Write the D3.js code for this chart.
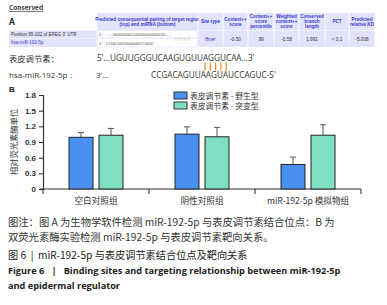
<!DOCTYPE html>
<html>
<head>
<meta charset="utf-8">
<script src="https://cdn.jsdelivr.net/npm/d3@7"></script>
<style>
  body { margin: 0; background: #fff; }
  svg { display: block; }
</style>
</head>
<body>
<div id="chart"></div>
<script>
// ---- data ----
const categories = ["空白对照组", "阴性对照组", "miR-192-5p 模拟物组"];
const seriesNames = ["表皮调节素 - 野生型", "表皮调节素 - 突变型"];
const wildValues = [0.99, 1.05, 0.47];
const wildErrors = [0.09, 0.14, 0.14];
const mutantValues = [1.03, 1.00, 1.03];
const mutantErrors = [0.13, 0.18, 0.20];
const yTicks = [0, 0.3, 0.6, 0.9, 1.2, 1.5, 1.8];

const tableHeaders = ["", "Predicted consequential pairing of target region\n(top) and miRNA (bottom)", "Site type",
  "Context++\nscore", "Context++\nscore\npercentile", "Weighted\ncontext++\nscore", "Conserved\nbranch\nlength", "PCT", "Predicted\nrelative KD"];
const tableValues = ["8mer", "-0.50", "99", "-0.58", "1.991", "< 0.1", "-5.008"];
const rowLabels = ["Position 95-102 of EREG 3' UTR", "hsa-miR-192-5p"];

const colors = ["#4a8ff2", "#7fdfc2"];

const W = 387, H = 305;
const svg = d3.select("#chart").append("svg").attr("width", W).attr("height", H)
  .style("font-family", "'Noto Sans CJK SC', 'Open Sans', sans-serif");

// ---- panel A: table ----
svg.append("text").attr("x", 9).attr("y", 10).attr("font-size", 6.5).attr("font-weight", "bold")
  .attr("fill", "#333").attr("text-decoration", "underline").text("Conserved");
svg.append("text").attr("x", 9).attr("y", 25).attr("font-size", 9).attr("font-weight", "bold")
  .attr("fill", "#222").text("A");

const colX = [9, 97, 198, 223, 248, 274, 299, 325, 349, 375];
const cellBg = "#e2e3fb", blueTxt = "#3a3ad0";
tableHeaders.forEach((h, i) => {
  const x0 = colX[i] + 0.5, x1 = colX[i + 1] - 0.5;
  if (i > 0) svg.append("rect").attr("x", x0).attr("y", 13).attr("width", x1 - x0).attr("height", 17).attr("fill", cellBg);
  const lines = h.split("\n");
  const t = svg.append("text").attr("x", (x0 + x1) / 2).attr("text-anchor", "middle")
    .attr("font-size", 4.6).attr("font-weight", "bold").attr("fill", blueTxt)
    .attr("font-family", "'Liberation Sans', Arial, sans-serif");
  lines.forEach((l, j) => {
    t.append("tspan").attr("x", (x0 + x1) / 2).attr("y", 21.5 - (lines.length - 1) * 2.5 + j * 5 + 1.6).text(l);
  });
});
// data rows
rowLabels.forEach((r, j) => {
  const y0 = j === 0 ? 30.5 : 38.5, hgt = j === 0 ? 7.5 : 8.5;
  svg.append("rect").attr("x", colX[0]).attr("y", y0).attr("width", colX[1] - colX[0] - 0.5).attr("height", hgt).attr("fill", cellBg);
  svg.append("rect").attr("x", colX[1] + 0.5).attr("y", y0).attr("width", colX[2] - colX[1] - 1).attr("height", hgt).attr("fill", "#fff")
    .attr("stroke", cellBg).attr("stroke-width", 0.6);
  svg.append("text").attr("x", colX[0] + 2).attr("y", y0 + hgt / 2 + 1.5).attr("font-size", 4.5)
    .attr("fill", j === 0 ? "#333" : blueTxt).attr("font-family", "'Liberation Sans', Arial, sans-serif").text(r);
});
svg.append("text").attr("x", 99).attr("y", 35.8).attr("font-size", 3.8).attr("fill", "#555")
  .attr("font-family", "'DejaVu Sans Mono', monospace").text("5'   ...UGUUGGGUCAAGUGUUAGGUCAA...");
svg.append("text").attr("x", 174).attr("y", 39.8).attr("font-size", 3.8).attr("fill", "#999")
  .attr("font-family", "'DejaVu Sans Mono', monospace").text("|||||||");
svg.append("text").attr("x", 99).attr("y", 44.5).attr("font-size", 3.8).attr("fill", "#555")
  .attr("font-family", "'DejaVu Sans Mono', monospace").text("3'          CCGACAGUUAAGUAUCCAGUC");
tableValues.forEach((v, i) => {
  const x0 = colX[i + 2] + 0.5, x1 = colX[i + 3] - 0.5;
  svg.append("rect").attr("x", x0).attr("y", 30.5).attr("width", x1 - x0).attr("height", 16.5).attr("fill", cellBg);
  svg.append("text").attr("x", (x0 + x1) / 2).attr("y", 40.5).attr("text-anchor", "middle")
    .attr("font-size", 4.7).attr("fill", i === 0 ? blueTxt : "#333")
    .attr("font-style", i === 0 ? "italic" : "normal")
    .attr("font-family", "'Liberation Sans', Arial, sans-serif").text(v);
});

// ---- pairing ----
const seqFont = "'Open Sans', 'Liberation Sans', sans-serif";
svg.append("text").attr("x", 9).attr("y", 62).attr("font-size", 8.3).attr("fill", "#333").text("表皮调节素：");
svg.append("text").attr("x", 97).attr("y", 61).attr("font-size", 8.2).attr("fill", "#333").attr("font-family", seqFont)
  .text("5'...UGUUGGGUCAAGUGUUAGGUCAA...3'");
d3.range(5).forEach(i => {
  svg.append("line").attr("x1", 205 + i * 5.3).attr("x2", 205 + i * 5.3).attr("y1", 62.5).attr("y2", 70.5)
    .attr("stroke", "#f08a1c").attr("stroke-width", 1.2);
});
svg.append("text").attr("x", 9).attr("y", 78).attr("font-size", 8).attr("fill", "#333").attr("font-family", seqFont).text("hsa-miR-192-5p：");
svg.append("text").attr("x", 96).attr("y", 78).attr("font-size", 8).attr("fill", "#333").attr("font-family", seqFont).text("3'...");
svg.append("text").attr("x", 151).attr("y", 78).attr("font-size", 8.2).attr("fill", "#333").attr("font-family", seqFont)
  .text("CCGACAGUUAAGUAUCCAGUC-5'");
svg.append("text").attr("x", 9).attr("y", 92).attr("font-size", 8).attr("font-weight", "bold").attr("fill", "#222")
  .attr("font-family", "'Liberation Sans', Arial, sans-serif").text("B");

// ---- panel B: bar chart ----
const plotLeft = 43, plotRight = 361, plotTop = 95, plotBottom = 189;
const x = d3.scaleBand().domain(categories).range([plotLeft, plotRight]).padding(0);
const y = d3.scaleLinear().domain([0, 1.8]).range([plotBottom, plotTop]);
const barW = 24, gap = 6;

const yAxis = svg.append("g").attr("transform", `translate(${plotLeft},0)`)
  .call(d3.axisLeft(y).tickValues(yTicks).tickSize(4).tickPadding(3)
    .tickFormat(d => d === 0 ? "0" : d3.format(".1f")(d)));
yAxis.select(".domain").attr("stroke", "#333").attr("stroke-width", 1.2);
yAxis.selectAll(".tick line").attr("stroke", "#333").attr("stroke-width", 1.1);
yAxis.selectAll(".tick text").attr("font-size", 8).attr("font-weight", "bold").attr("fill", "#333")
  .attr("font-family", "'Liberation Sans', Arial, sans-serif");

const xAxis = svg.append("g").attr("transform", `translate(0,${plotBottom})`)
  .call(d3.axisBottom(x).tickSize(0).tickPadding(9));
xAxis.select(".domain").attr("stroke", "#333").attr("stroke-width", 1.2).attr("d", `M${plotLeft - 3},0H${plotRight}`);
xAxis.selectAll(".tick text").attr("font-size", 8.6).attr("fill", "#333")
  .attr("font-family", "'Noto Sans CJK SC', 'Open Sans', sans-serif");
// group separator ticks
[...categories.map(c => x(c)), plotRight].forEach(v => {
  svg.append("line").attr("x1", v).attr("x2", v).attr("y1", plotBottom).attr("y2", plotBottom + 5)
    .attr("stroke", "#333").attr("stroke-width", 1.1);
});

const series = [
  { values: wildValues, errors: wildErrors },
  { values: mutantValues, errors: mutantErrors }
];
series.forEach((s, si) => {
  categories.forEach((c, ci) => {
    const cx = x(c) + x.bandwidth() / 2;
    const bx = si === 0 ? cx - gap / 2 - barW : cx + gap / 2;
    const v = s.values[ci], e = s.errors[ci];
    const mid = bx + barW / 2;
    svg.append("line").attr("x1", mid).attr("x2", mid).attr("y1", y(v)).attr("y2", y(v + e))
      .attr("stroke", "#555").attr("stroke-width", 1);
    svg.append("line").attr("x1", mid - 3).attr("x2", mid + 3).attr("y1", y(v + e)).attr("y2", y(v + e))
      .attr("stroke", "#555").attr("stroke-width", 1);
    svg.append("rect").attr("x", bx).attr("y", y(v)).attr("width", barW).attr("height", y(0) - y(v))
      .attr("fill", colors[si]).attr("stroke", "#222").attr("stroke-width", 1);
  });
});

svg.append("text").attr("transform", `translate(17,${(plotTop + plotBottom) / 2}) rotate(-90)`)
  .attr("text-anchor", "middle").attr("font-size", 8.3).attr("fill", "#333").text("相对荧光素酶单位");

// legend
seriesNames.forEach((n, i) => {
  const ly = 93 + i * 10;
  svg.append("rect").attr("x", 174).attr("y", ly - 1).attr("width", 13).attr("height", 7)
    .attr("fill", colors[i]).attr("stroke", "#333").attr("stroke-width", 1);
  svg.append("text").attr("x", 190).attr("y", ly + 5.5).attr("font-size", 7.8).attr("fill", "#333").text(n);
});

// ---- captions ----
const capFont = "'Noto Sans CJK SC', 'Open Sans', sans-serif";
svg.append("text").attr("x", 8).attr("y", 226).attr("font-size", 10.3).attr("fill", "#333").attr("font-family", capFont)
  .text("图注：图 A 为生物学软件检测 miR-192-5p 与表皮调节素结合位点：B 为");
svg.append("text").attr("x", 8).attr("y", 241).attr("font-size", 10.3).attr("fill", "#333").attr("font-family", capFont)
  .text("双荧光素酶实验检测 miR-192-5p 与表皮调节素靶向关系。");
svg.append("text").attr("x", 8).attr("y", 258.5).attr("font-size", 10.2).attr("fill", "#222").attr("font-family", capFont)
  .attr("xml:space", "preserve")
  .text("图 6  |  miR-192-5p 与表皮调节素结合位点及靶向关系");
svg.append("text").attr("x", 8).attr("y", 274).attr("font-size", 9.2).attr("font-weight", "bold").attr("fill", "#222")
  .attr("font-family", "'Open Sans', sans-serif").attr("xml:space", "preserve")
  .text("Figure 6   |   Binding sites and targeting relationship between miR-192-5p");
svg.append("text").attr("x", 8).attr("y", 289).attr("font-size", 9.2).attr("font-weight", "bold").attr("fill", "#222")
  .attr("font-family", "'Open Sans', sans-serif").text("and epidermal regulator");
</script>
</body>
</html>
